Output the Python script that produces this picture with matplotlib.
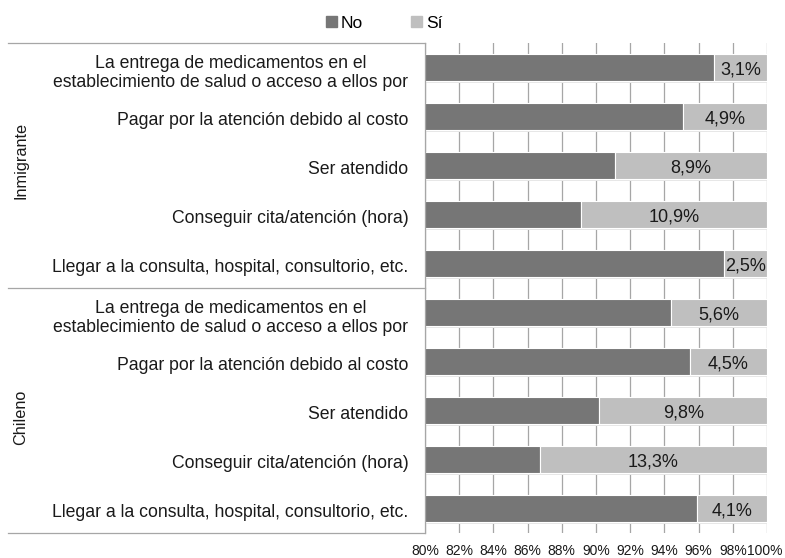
import matplotlib
matplotlib.use("Agg")
import matplotlib.pyplot as plt
from matplotlib.transforms import blended_transform_factory, ScaledTranslation
from matplotlib.patches import Patch

plt.rcParams['font.family'] = ['Liberation Sans', 'DejaVu Sans']

groups = ["Inmigrante", "Chileno"]
categories = [
    "La entrega de medicamentos en el\nestablecimiento de salud o acceso a ellos por",
    "Pagar por la atención debido al costo",
    "Ser atendido",
    "Conseguir cita/atención (hora)",
    "Llegar a la consulta, hospital, consultorio, etc.",
]
si_inmigrante = [3.1, 4.9, 8.9, 10.9, 2.5]
si_chileno = [5.6, 4.5, 9.8, 13.3, 4.1]
xticks = [80, 82, 84, 86, 88, 90, 92, 94, 96, 98, 100]

labels = categories + categories
si_vals = si_inmigrante + si_chileno
no_vals = [100 - v for v in si_vals]
ypos = list(range(len(labels)))

dark = "#767676"
light = "#bfbfbf"
grid_c = "#a6a6a6"
txt_c = "#1a1a1a"

fig = plt.figure(figsize=(7.85, 5.58), dpi=100)
ax = fig.add_axes([425 / 785, 1 - 533 / 558, (767 - 425) / 785, (533 - 43) / 558])

# small downward nudge for text, in points
down = ScaledTranslation(0, -1.5 / 72, fig.dpi_scale_trans)

bh = 0.55
# soft shadow under each bar
ax.barh([y + 0.045 for y in ypos], [100 - 80] * len(ypos), left=80, height=bh,
        color="#e6e6e6", zorder=1.5, linewidth=0)
ax.barh(ypos, no_vals, left=0, height=bh, color=dark, edgecolor="white",
        linewidth=0.8, zorder=2, label="No")
ax.barh(ypos, si_vals, left=no_vals, height=bh, color=light, edgecolor="white",
        linewidth=0.8, zorder=2, label="Sí")

for y, n, s in zip(ypos, no_vals, si_vals):
    ax.text(n + s / 2, y, f"{s:.1f}%".replace(".", ","), ha="center", va="center",
            fontsize=13, color=txt_c, zorder=3, transform=ax.transData + down)

ax.set_xlim(80, 100)
ax.set_ylim(len(labels) - 0.5, -0.5)
ax.set_xticks(xticks)
ax.set_xticklabels([f"{t}%" for t in xticks], fontsize=10, color=txt_c)
ax.set_yticks(ypos)
ax.set_yticklabels(labels, fontsize=12.7, color=txt_c, multialignment="center",
                   linespacing=1.2)
ax.tick_params(axis="both", length=0)
ax.tick_params(axis="y", pad=12)
ax.tick_params(axis="x", pad=8)
for lbl in ax.get_yticklabels():
    lbl.set_transform(lbl.get_transform() + down)
last = ax.get_xticklabels()[-1]
last.set_transform(last.get_transform() + ScaledTranslation(-2 / 100, 0, fig.dpi_scale_trans))

ax.xaxis.grid(True, color=grid_c, linewidth=0.9, zorder=0)
ax.set_axisbelow(True)
for side in ["top", "right", "bottom"]:
    ax.spines[side].set_visible(False)
ax.spines["left"].set_color(grid_c)
ax.spines["left"].set_linewidth(0.9)

# group separators and group labels
trans = blended_transform_factory(ax.transAxes, ax.transData)
x_left = (8 - 425) / (767 - 425)
for yb in [-0.5, 4.5, 9.5]:
    ax.plot([x_left, 0], [yb, yb], transform=trans, color=grid_c, linewidth=0.9,
            clip_on=False)
x_grp = (21 - 425) / (767 - 425)
for g, yc in zip(groups, [1.9, 7.15]):
    ax.text(x_grp, yc, g, transform=trans, rotation=90, ha="center", va="center",
            fontsize=11.7, color=txt_c)

handles = [Patch(color=dark, label="No"), Patch(color=light, label="Sí")]
fig.legend(handles=handles, loc="center", bbox_to_anchor=(384 / 785, 1 - 23 / 558),
           ncol=2, frameon=False, fontsize=12.5, handlelength=0.65, handleheight=0.65,
           handletextpad=0.2, columnspacing=2.8)

fig.savefig("out.png", dpi=100)
